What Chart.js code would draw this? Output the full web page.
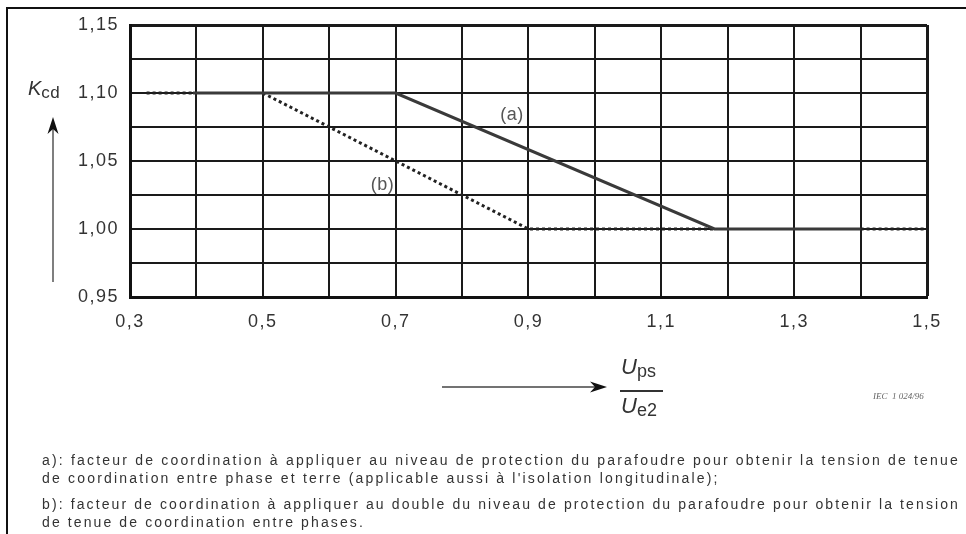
<!DOCTYPE html>
<html>
<head>
<meta charset="utf-8">
<script src="https://cdn.jsdelivr.net/npm/chart.js@4/dist/chart.umd.min.js"></script>
<style>
  body { margin: 0; background: #fff; font-family: "Liberation Sans", Arial, sans-serif; }
  #wrap { position: relative; width: 966px; height: 534px; overflow: hidden; }
  #frame { position: absolute; left: 6px; top: 7px; width: 980px; height: 560px; border-left: 2px solid #111; border-top: 2px solid #111; }
  #myChart { position: absolute; left: 0; top: 0; }
  #arrows { position: absolute; left: 0; top: 0; }
  .lbl { position: absolute; color: #333; white-space: nowrap; line-height: 1; }
  .note { position: absolute; left: 42px; color: #333; font-size: 14px; white-space: nowrap; line-height: 1; }
</style>
</head>
<body>
<div id="wrap">
  <div id="frame"></div>
  <canvas id="myChart" width="966" height="534"></canvas>

  <svg id="arrows" width="966" height="534">
    <line x1="53" y1="282" x2="53" y2="126" stroke="#555" stroke-width="1.5"/>
    <polygon points="53,117 47.5,134 53,129 58.5,134" fill="#111"/>
    <line x1="442" y1="387" x2="598" y2="387" stroke="#444" stroke-width="1.5"/>
    <polygon points="607,387 590,381.5 595,387 590,392.5" fill="#111"/>
    <line x1="620" y1="391" x2="663" y2="391" stroke="#333" stroke-width="2"/>
  </svg>

  <div class="lbl" style="left:28px; top:78px;"><i style="font-size:20px;">K</i><span style="font-size:17px; position:relative; top:3px; letter-spacing:0.5px;">cd</span></div>

  <div class="lbl" style="left:621px; top:356px;"><i style="font-size:22px;">U</i><span style="font-size:18px; position:relative; top:3px;">ps</span></div>
  <div class="lbl" style="left:621px; top:395px;"><i style="font-size:22px;">U</i><span style="font-size:18px; position:relative; top:3px;">e2</span></div>

  <div class="lbl" style="left:873px; top:392px; font-family:'Liberation Serif',serif; font-style:italic; font-size:9px; color:#666;">IEC&nbsp; 1 024/96</div>

  <div class="note" id="n1" style="top:453px;">a): facteur de coordination à appliquer au niveau de protection du parafoudre pour obtenir la tension de tenue</div>
  <div class="note" id="n2" style="top:471px;">de coordination entre phase et terre (applicable aussi à l'isolation longitudinale);</div>
  <div class="note" id="n3" style="top:497px;">b): facteur de coordination à appliquer au double du niveau de protection du parafoudre pour obtenir la tension</div>
  <div class="note" id="n4" style="top:515px;">de tenue de coordination entre phases.</div>
</div>

<script>
  // valeurs
  const xLabelValues = [0.3, 0.5, 0.7, 0.9, 1.1, 1.3, 1.5];
  const yLabelValues = [0.95, 1.00, 1.05, 1.10, 1.15];

  // courbe (a)
  const aSolidX = [0.395, 0.70, 1.18, 1.40];
  const aSolidY = [1.10, 1.10, 1.00, 1.00];
  const aDotLeftX = [0.325, 0.395];
  const aDotLeftY = [1.10, 1.10];
  const aDotRightX = [1.40, 1.50];
  const aDotRightY = [1.00, 1.00];

  // courbe (b)
  const bX = [0.50, 0.90, 1.18];
  const bY = [1.10, 1.00, 1.00];

  function pts(xs, ys) {
    return xs.map((x, i) => ({ x: x, y: ys[i] }));
  }

  function fmt(v, list, dec) {
    const hit = list.find(t => Math.abs(t - v) < 1e-6);
    return hit === undefined ? '' : hit.toFixed(dec).replace('.', ',');
  }

  const solid = { showLine: true, pointRadius: 0, borderColor: '#3a3a3a', borderWidth: 3, tension: 0 };
  const dotted = { showLine: true, pointRadius: 0, borderColor: '#222', borderWidth: 3, borderDash: [3, 3], tension: 0 };

  const notesPlugin = {
    id: 'notes',
    beforeDraw(chart) {
      chart.ctx.letterSpacing = '1.5px';
    },
    afterDatasetsDraw(chart) {
      const c = chart.ctx;
      const xs = chart.scales.x, ys = chart.scales.y;
      c.save();
      c.letterSpacing = '0.5px';
      c.fillStyle = '#555';
      c.font = '18px "Liberation Sans", Arial, sans-serif';
      c.textAlign = 'center';
      c.textBaseline = 'middle';
      c.fillText('(a)', xs.getPixelForValue(0.875), ys.getPixelForValue(1.084));
      c.fillText('(b)', xs.getPixelForValue(0.68), ys.getPixelForValue(1.032));
      c.restore();
    }
  };

  var ctx = document.getElementById('myChart');
  var myChart = new Chart(ctx, {
    type: 'scatter',
    data: {
      datasets: [
        Object.assign({ data: pts(aSolidX, aSolidY) }, solid),
        Object.assign({ data: pts(aDotLeftX, aDotLeftY) }, dotted),
        Object.assign({ data: pts(aDotRightX, aDotRightY) }, dotted),
        Object.assign({ data: pts(bX, bY) }, dotted)
      ]
    },
    options: {
      responsive: false,
      animation: false,
      devicePixelRatio: 1,
      layout: { padding: { left: 0, top: 25, right: 39, bottom: 189 } },
      plugins: { legend: { display: false }, tooltip: { enabled: false } },
      scales: {
        x: {
          type: 'linear', min: 0.3, max: 1.5,
          afterFit(scale) { scale.height = 48; },
          ticks: {
            stepSize: 0.1, autoSkip: false, maxRotation: 0, padding: 14,
            color: '#333', font: { size: 18, family: '"Liberation Sans", Arial, sans-serif' },
            callback: v => fmt(v, xLabelValues, 1)
          },
          grid: {
            color: '#1a1a1a', drawTicks: false,
            lineWidth: c => (c.tick && Math.abs(c.tick.value - 1.5) < 1e-6) ? 3 : 2
          },
          border: { color: '#111', width: 3 }
        },
        y: {
          type: 'linear', min: 0.95, max: 1.15,
          afterFit(scale) { scale.width = 130; },
          ticks: {
            stepSize: 0.025, autoSkip: false, padding: 11,
            color: '#333', font: { size: 18, family: '"Liberation Sans", Arial, sans-serif' },
            callback: v => fmt(v, yLabelValues, 2)
          },
          grid: {
            color: '#1a1a1a', drawTicks: false,
            lineWidth: c => (c.tick && Math.abs(c.tick.value - 1.15) < 1e-6) ? 3 : 2
          },
          border: { color: '#111', width: 3 }
        }
      }
    },
    plugins: [notesPlugin]
  });

  // texte justifié comme dans la figure
  function fitLine(first, second, target) {
    const el = document.getElementById(first);
    const n = el.textContent.length;
    const w = el.getBoundingClientRect().width;
    const ls = (target - w) / n;
    el.style.letterSpacing = ls + 'px';
    document.getElementById(second).style.letterSpacing = ls + 'px';
  }
  fitLine('n1', 'n2', 918);
  fitLine('n3', 'n4', 918);
</script>
</body>
</html>
